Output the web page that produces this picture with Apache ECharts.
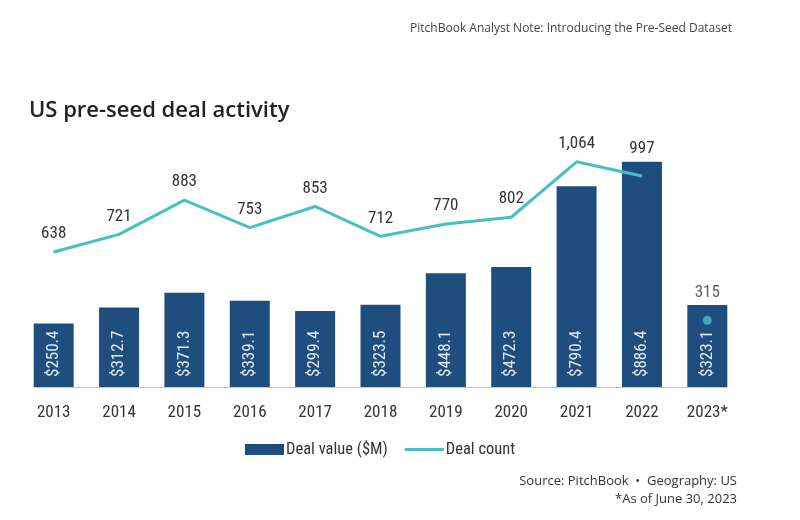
<!DOCTYPE html>
<html><head><meta charset="utf-8">
<script src="https://cdn.jsdelivr.net/npm/echarts@6/dist/echarts.min.js"></script>
<style>html,body{margin:0;padding:0;background:#fff}#c{width:800px;height:520px}</style>
</head><body><div id="c"></div>
<script>
const years = ['2013','2014','2015','2016','2017','2018','2019','2020','2021','2022','2023*'];
const dealValue = [250.4,312.7,371.3,339.1,299.4,323.5,448.1,472.3,790.4,886.4,323.1];
const dealCount = [638,721,883,753,853,712,770,802,1064,997,315];

const BAR = '#1f4e7e', TEAL = '#48bec5';
const NARROW = '"Liberation Sans Narrow","Roboto Condensed","DejaVu Sans Condensed",sans-serif';
const SANS = '"Open Sans","Noto Sans",sans-serif';
const fmtCount = v => v.toLocaleString('en-US');
const isPartial = y => y.endsWith('*');
const lineData = dealCount.map((v,i)=> isPartial(years[i]) ? '-' : v);
const dotData = dealCount.map((v,i)=> isPartial(years[i]) ? v : '-');
const DOT_SIZE = 9;

const chart = echarts.init(document.getElementById('c'), null, {renderer:'canvas'});
const labelStyle = {show:true, position:'top', distance:9, color:'#333', fontFamily:NARROW, fontSize:17,
  formatter: p => fmtCount(p.value)};
const LINE_ICON = 'path://M0,0h0.01v0.01h-0.01z M0,4h40v3h-40z M0,10.99h0.01v0.01h-0.01z';
const option = {
  animation:false,
  title:{text:'US pre-seed deal activity', left:24, top:95,
    textStyle:{fontFamily:SANS, fontWeight:600, fontSize:22, color:'#222'}},
  graphic:[
    {type:'text', right:68, top:23, style:{text:'PitchBook Analyst Note: Introducing the Pre-Seed Dataset',
      fontFamily:SANS, fontSize:12, fill:'#444'}},
    {type:'text', right:63, top:475, style:{text:'Source: PitchBook  •  Geography: US',
      fontFamily:SANS, fontSize:13, fill:'#333'}},
    {type:'text', right:63, top:493, style:{text:'*As of June 30, 2023',
      fontFamily:SANS, fontSize:13, fill:'#333'}}
  ],
  legend:{data:[{name:'Deal value ($M)', icon:'rect'}, {name:'Deal count', icon:LINE_ICON}],
    left:240, top:436, itemWidth:39, itemHeight:11, itemGap:17,
    textStyle:{fontFamily:NARROW, fontSize:16.5, color:'#333', padding:[0,0,0,-3]}},
  grid:{left:21, right:60, top:133, bottom:133},
  xAxis:{type:'category', data:years, axisTick:{show:false}, axisLine:{show:false},
    axisLabel:{margin:17, color:'#333', fontFamily:NARROW, fontSize:17}},
  yAxis:[{type:'value', min:0, max:1000, show:false, splitLine:{show:false}},
         {type:'value', min:0, max:1200, show:false, splitLine:{show:false}}],
  series:[
    {name:'Deal value ($M)', type:'bar', data:dealValue, barWidth:40, itemStyle:{color:BAR}, z:1,
      label:{show:true, position:'insideBottom', rotate:90, align:'left', verticalAlign:'middle', distance:10,
        color:'#dfe8f2', fontFamily:NARROW, fontSize:17, formatter:p=>'$'+p.value.toFixed(1)}},
    {name:'Deal count', type:'line', yAxisIndex:1, data:lineData, symbol:'circle', symbolSize:1, showSymbol:true,
      lineStyle:{color:TEAL, width:3}, itemStyle:{color:TEAL}, label:labelStyle, z:3},
    {name:'Deal count 2023', type:'scatter', yAxisIndex:1, data:dotData, symbolSize:DOT_SIZE, itemStyle:{color:TEAL},
      label:labelStyle, z:3}
  ]
};
chart.setOption(option);

// place count labels above whichever is higher: the bar top or the count point
const lineItems = [], dotItems = [];
dealCount.forEach((v,i)=>{
  const partial = isPartial(years[i]);
  const barTop = chart.convertToPixel({seriesIndex:0}, [i, dealValue[i]])[1];
  const pt = chart.convertToPixel({seriesIndex:1}, [i, v])[1];
  const half = partial ? DOT_SIZE/2 : 0;
  const dist = barTop < pt ? (pt - barTop) + 4 - half : 9;
  const item = {value:v, label:{distance:dist}};
  if (partial) { dotItems.push(item); lineItems.push('-'); }
  else { lineItems.push(item); dotItems.push('-'); }
});
const x0 = chart.convertToPixel({xAxisIndex:0}, 0) - 20;
const x1 = chart.convertToPixel({xAxisIndex:0}, years.length-1) + 20;
const y0 = chart.convertToPixel({yAxisIndex:0}, 0);
chart.setOption({
  series:[{}, {data:lineItems}, {data:dotItems}],
  graphic:[{}, {}, {},
    {type:'line', shape:{x1:x0, y1:y0+0.5, x2:x1, y2:y0+0.5}, style:{stroke:'#c4c4c4', lineWidth:1}, z:0}]
});
</script></body></html>
